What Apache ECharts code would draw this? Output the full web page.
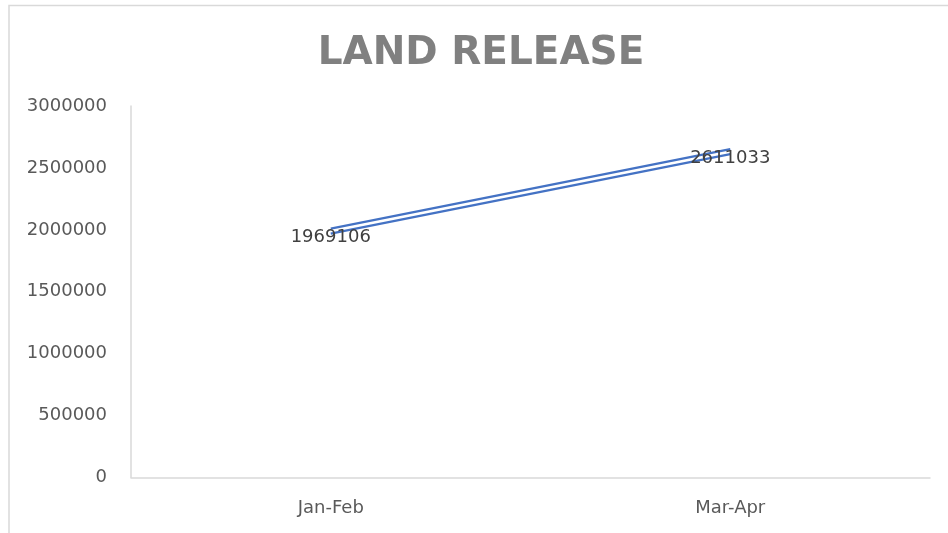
<!DOCTYPE html>
<html>
<head>
<meta charset="utf-8">
<script src="https://cdn.jsdelivr.net/npm/echarts@6/dist/echarts.min.js"></script>
<style>
  html, body { margin: 0; padding: 0; background: #fff; }
  #chart { width: 948px; height: 533px; }
</style>
</head>
<body>
<div id="chart"></div>
<script>
// Land release line chart

const categories = ['Jan-Feb', 'Mar-Apr'];
const landRelease = [1969106, 2611033];
const yTicks = { min: 0, max: 3000000, interval: 500000 };

const myChart = echarts.init(document.getElementById('chart'));

const option = {
    backgroundColor: '#fff',
    animation: false,
    title: {
        text: 'LAND RELEASE',
        left: 476,
        top: 29,
        textAlign: 'center',
        textStyle: {
            fontFamily: 'DejaVu Sans',
            fontWeight: 'bold',
            fontSize: 39,
            color: '#808080'
        }
    },
    graphic: [
        {
            type: 'rect',
            shape: { x: 9, y: 5.5, width: 980, height: 560 },
            style: { fill: 'none', stroke: '#d9d9d9', lineWidth: 1.5 },
            silent: true
        }
    ],
    grid: {
        left: 131,
        right: 18,
        top: 106,
        bottom: 55.5
    },
    xAxis: {
        type: 'category',
        data: categories,
        boundaryGap: true,
        axisLine: { lineStyle: { color: '#d9d9d9', width: 1.5 } },
        axisTick: { show: false },
        axisLabel: {
            margin: 22,
            fontFamily: 'DejaVu Sans',
            fontSize: 18,
            color: '#595959'
        }
    },
    yAxis: {
        type: 'value',
        min: yTicks.min,
        max: yTicks.max,
        interval: yTicks.interval,
        axisLine: { show: true, lineStyle: { color: '#d9d9d9', width: 1.5 } },
        axisTick: { show: false },
        splitLine: { show: false },
        axisLabel: {
            margin: 24,
            fontFamily: 'DejaVu Sans',
            fontSize: 18,
            color: '#595959',
            formatter: v => String(v)
        }
    },
    series: [
        {
            name: 'Land Release',
            type: 'line',
            data: landRelease,
            symbol: 'circle',
            symbolSize: 1,
            itemStyle: { color: 'rgba(0,0,0,0)' },
            lineStyle: {
                color: '#4472c4',
                width: 2.2,
                shadowColor: '#4472c4',
                shadowBlur: 0,
                shadowOffsetY: -5
            },
            label: {
                show: true,
                position: 'inside',
                offset: [0, 4],
                fontFamily: 'DejaVu Sans',
                fontSize: 18,
                color: '#404040'
            }
        }
    ]
};

myChart.setOption(option);
</script>
</body>
</html>
